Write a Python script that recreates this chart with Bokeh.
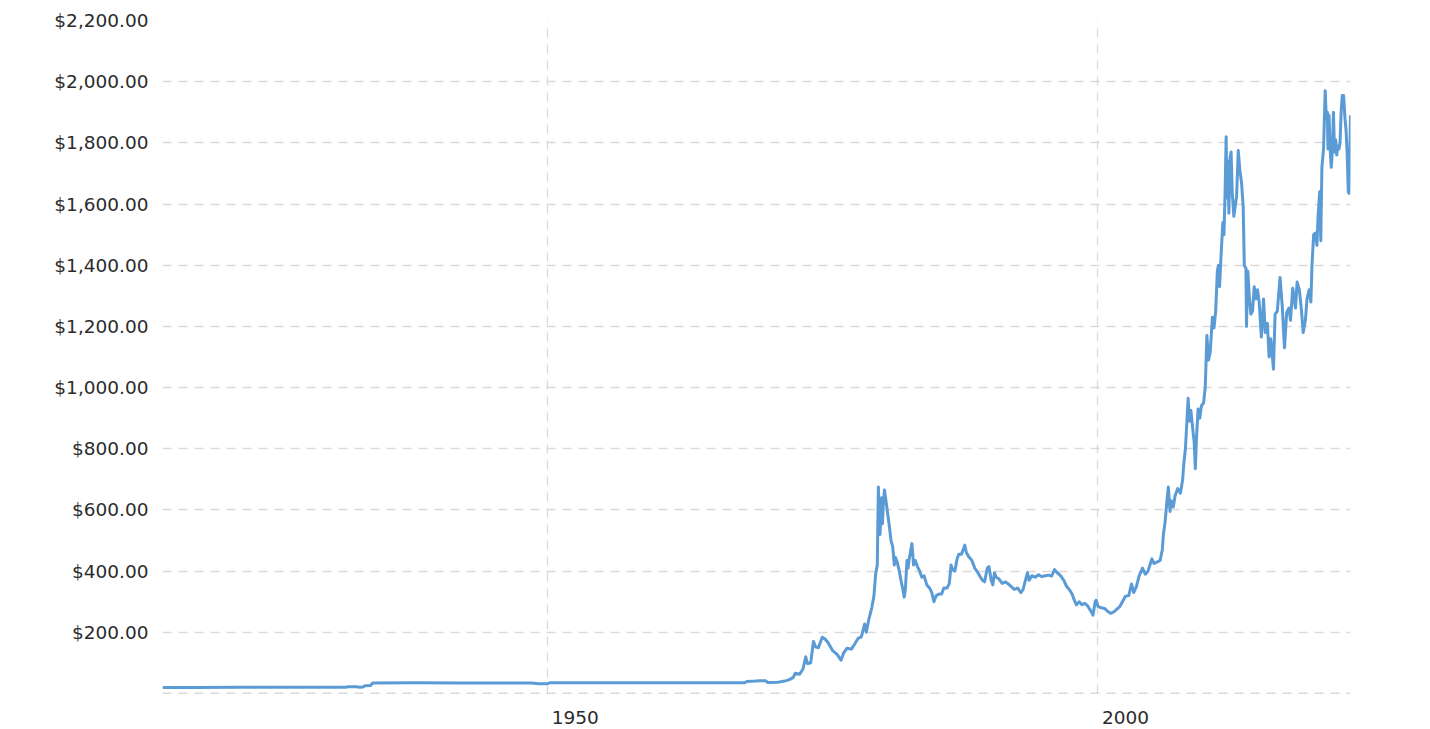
from bokeh.plotting import figure
from bokeh.models import FixedTicker, Span, NumeralTickFormatter, Range1d
from bokeh.embed import file_html
from bokeh.resources import INLINE

# ---- data ----
years = [
    1915.0, 1918.0, 1922.0, 1926.0, 1930.0, 1931.6, 1931.9, 1932.6, 1932.9, 1933.2,
    1933.4, 1933.9, 1934.1, 1938.0, 1942.0, 1946.0, 1948.5, 1949.2, 1949.9, 1950.2,
    1955.0, 1960.0, 1967.9, 1968.1, 1968.9, 1969.3, 1969.8, 1970.0, 1970.9, 1971.3,
    1971.7, 1972.0, 1972.3, 1972.5, 1972.9, 1973.2, 1973.45, 1973.6, 1973.9, 1974.15,
    1974.35, 1974.6, 1974.95, 1975.2, 1975.5, 1975.9, 1976.3, 1976.65, 1976.9, 1977.2,
    1977.6, 1977.9, 1978.2, 1978.5, 1978.8, 1978.95, 1979.2, 1979.45, 1979.65, 1979.8,
    1979.95, 1980.05, 1980.15, 1980.2, 1980.3, 1980.35, 1980.42, 1980.5, 1980.6, 1980.7,
    1980.85, 1981.0, 1981.2, 1981.35, 1981.5, 1981.6, 1981.75, 1981.95, 1982.1, 1982.25,
    1982.4, 1982.5, 1982.65, 1982.75, 1982.85, 1983.1, 1983.25, 1983.4, 1983.6, 1983.8,
    1984.0, 1984.2, 1984.45, 1984.7, 1984.9, 1985.1, 1985.3, 1985.55, 1985.8, 1986.0,
    1986.3, 1986.5, 1986.65, 1986.8, 1987.0, 1987.2, 1987.35, 1987.6, 1987.9, 1988.05,
    1988.3, 1988.55, 1988.8, 1989.0, 1989.25, 1989.5, 1989.7, 1989.95, 1990.1, 1990.3,
    1990.45, 1990.6, 1990.75, 1991.0, 1991.3, 1991.6, 1991.85, 1992.1, 1992.4, 1992.7,
    1993.0, 1993.2, 1993.45, 1993.6, 1993.75, 1994.0, 1994.3, 1994.6, 1994.9, 1995.2,
    1995.5, 1995.8, 1996.05, 1996.3, 1996.6, 1996.9, 1997.15, 1997.4, 1997.65, 1997.85,
    1998.05, 1998.3, 1998.55, 1998.8, 1999.05, 1999.35, 1999.55, 1999.75, 1999.85, 2000.0,
    2000.3, 2000.6, 2000.9, 2001.15, 2001.35, 2001.55, 2001.8, 2002.0, 2002.3, 2002.5,
    2002.8, 2003.05, 2003.25, 2003.5, 2003.75, 2004.05, 2004.3, 2004.55, 2004.9, 2005.1,
    2005.4, 2005.65, 2005.85, 2005.95, 2006.1, 2006.3, 2006.4, 2006.55, 2006.65, 2006.85,
    2007.0, 2007.25, 2007.5, 2007.7, 2007.8, 2007.95, 2008.1, 2008.2, 2008.3, 2008.45,
    2008.6, 2008.75, 2008.85, 2008.95, 2009.1, 2009.25, 2009.4, 2009.6, 2009.75, 2009.9,
    2010.05, 2010.2, 2010.4, 2010.55, 2010.7, 2010.85, 2010.95, 2011.05, 2011.2, 2011.35,
    2011.45, 2011.55, 2011.65, 2011.72, 2011.8, 2011.9, 2012.0, 2012.1, 2012.2, 2012.35,
    2012.5, 2012.6, 2012.75, 2012.9, 2013.05, 2013.2, 2013.3, 2013.45, 2013.5, 2013.62,
    2013.75, 2013.9, 2014.05, 2014.2, 2014.35, 2014.5, 2014.65, 2014.85, 2015.05, 2015.2,
    2015.4, 2015.55, 2015.7, 2015.95, 2016.1, 2016.3, 2016.55, 2016.75, 2016.95, 2017.15,
    2017.35, 2017.5, 2017.7, 2017.95, 2018.1, 2018.3, 2018.5, 2018.65, 2018.85, 2019.0,
    2019.2, 2019.35, 2019.45, 2019.6, 2019.75, 2019.9, 2020.0, 2020.15, 2020.25, 2020.35,
    2020.5, 2020.65, 2020.75, 2020.85, 2020.9, 2021.0, 2021.1, 2021.2, 2021.3, 2021.4,
    2021.5, 2021.6, 2021.7, 2021.8, 2021.9, 2022.0, 2022.1, 2022.2, 2022.32, 2022.45,
    2022.55, 2022.65, 2022.75, 2022.82, 2022.95,
]
prices = [
    19.5, 19.8, 20.1, 20.3, 20.6, 20.7, 22.0, 22.0, 20.8, 21.0,
    25.5, 26.0, 34.5, 35.0, 34.0, 34.6, 34.5, 31.5, 31.5, 34.8,
    35.0, 35.0, 35.0, 39.5, 40.5, 42.0, 41.5, 36.0, 37.0, 39.0,
    42.0, 46.0, 52.0, 66.0, 63.0, 80.0, 120.0, 98.0, 100.0, 170.0,
    152.0, 150.0, 184.0, 178.0, 165.0, 140.0, 128.0, 109.0, 133.0, 148.0,
    145.0, 162.0, 180.0, 185.0, 227.0, 200.0, 245.0, 280.0, 320.0, 390.0,
    420.0, 675.0, 560.0, 520.0, 600.0, 640.0, 555.0, 620.0, 665.0, 640.0,
    600.0, 560.0, 500.0, 480.0, 420.0, 445.0, 430.0, 400.0, 370.0, 345.0,
    315.0, 340.0, 435.0, 410.0, 440.0, 490.0, 420.0, 435.0, 415.0, 400.0,
    380.0, 385.0, 355.0, 345.0, 330.0, 300.0, 320.0, 325.0, 325.0, 345.0,
    345.0, 360.0, 420.0, 405.0, 400.0, 440.0, 455.0, 455.0, 485.0, 460.0,
    445.0, 435.0, 410.0, 400.0, 385.0, 370.0, 365.0, 410.0, 415.0, 370.0,
    355.0, 395.0, 380.0, 375.0, 360.0, 365.0, 358.0, 350.0, 340.0, 345.0,
    330.0, 340.0, 375.0, 395.0, 370.0, 385.0, 380.0, 388.0, 382.0, 385.0,
    387.0, 384.0, 405.0, 395.0, 385.0, 370.0, 350.0, 340.0, 325.0, 305.0,
    290.0, 300.0, 290.0, 295.0, 287.0, 270.0, 256.0, 300.0, 305.0, 285.0,
    280.0, 278.0, 268.0, 262.0, 265.0, 270.0, 278.0, 285.0, 305.0, 318.0,
    320.0, 358.0, 330.0, 350.0, 385.0, 410.0, 390.0, 400.0, 440.0, 425.0,
    430.0, 435.0, 470.0, 520.0, 560.0, 640.0, 675.0, 595.0, 630.0, 610.0,
    645.0, 670.0, 655.0, 700.0, 750.0, 800.0, 900.0, 965.0, 890.0, 925.0,
    870.0, 820.0, 735.0, 830.0, 930.0, 900.0, 940.0, 950.0, 1000.0, 1170.0,
    1090.0, 1115.0, 1230.0, 1195.0, 1250.0, 1380.0, 1400.0, 1330.0, 1440.0, 1540.0,
    1500.0, 1630.0, 1820.0, 1620.0, 1740.0, 1570.0, 1750.0, 1770.0, 1640.0, 1560.0,
    1600.0, 1625.0, 1775.0, 1710.0, 1670.0, 1590.0, 1400.0, 1390.0, 1200.0, 1380.0,
    1300.0, 1240.0, 1250.0, 1330.0, 1290.0, 1320.0, 1280.0, 1165.0, 1290.0, 1180.0,
    1210.0, 1100.0, 1160.0, 1060.0, 1240.0, 1250.0, 1360.0, 1265.0, 1130.0, 1245.0,
    1260.0, 1220.0, 1325.0, 1260.0, 1345.0, 1320.0, 1250.0, 1180.0, 1220.0, 1290.0,
    1320.0, 1280.0, 1400.0, 1500.0, 1505.0, 1465.0, 1560.0, 1640.0, 1480.0, 1720.0,
    1780.0, 1970.0, 1880.0, 1900.0, 1780.0, 1890.0, 1780.0, 1720.0, 1770.0, 1900.0,
    1770.0, 1810.0, 1760.0, 1790.0, 1780.0, 1800.0, 1900.0, 1955.0, 1955.0, 1880.0,
    1840.0, 1760.0, 1640.0, 1635.0, 1890.0,
]
y_ticks = [200, 400, 600, 800, 1000, 1200, 1400, 1600, 1800, 2000, 2200]
x_ticks = [1950, 2000]
x_tick_labels = ["1950", "2000"]
# the reference prints each year label just to the right of its gridline
x_label_shift = 2.5  # years

FONT = "DejaVu Sans"
TEXT_COLOR = "#2b2b2b"
GRID_COLOR = "#d9d9d9"

p = figure(
    frame_width=1188, frame_height=673,
    min_border_left=162, min_border_right=40, min_border_top=20, min_border_bottom=36,
    x_range=Range1d(1915.0, 2022.95), y_range=Range1d(0, 2200),
    output_backend="svg", toolbar_location=None,
)
p.outline_line_color = None
p.background_fill_color = "white"
p.border_fill_color = "white"

# y axis
p.yaxis.ticker = FixedTicker(ticks=y_ticks)
p.yaxis.formatter = NumeralTickFormatter(format="$0,0.00")
p.yaxis.axis_line_color = None
p.yaxis.major_tick_line_color = None
p.yaxis.minor_tick_line_color = None
p.yaxis.major_label_standoff = 8
p.yaxis.major_label_text_font = FONT
p.yaxis.major_label_text_font_size = "18.5px"
p.yaxis.major_label_text_color = TEXT_COLOR

# x axis: labels sit to the right of the 1950 / 2000 gridlines
label_pos = [t + x_label_shift for t in x_ticks]
p.xaxis.ticker = FixedTicker(ticks=label_pos)
p.xaxis.major_label_overrides = {lp: lab for lp, lab in zip(label_pos, x_tick_labels)}
p.xaxis.axis_line_color = None
p.xaxis.major_tick_line_color = None
p.xaxis.minor_tick_line_color = None
p.xaxis.major_label_standoff = 11
p.xaxis.major_label_text_font = FONT
p.xaxis.major_label_text_font_size = "18.5px"
p.xaxis.major_label_text_color = TEXT_COLOR

p.xgrid.ticker = FixedTicker(ticks=x_ticks)
p.xgrid.grid_line_color = GRID_COLOR
p.xgrid.grid_line_dash = "9 7"
p.xgrid.grid_line_width = 1.3

p.ygrid.grid_line_color = GRID_COLOR
p.ygrid.grid_line_dash = "9 7"
p.ygrid.grid_line_width = 1.3

# zero line (darker)
p.add_layout(Span(location=0, dimension="width", line_color="#b5b5b5",
                  line_dash="9 7", line_width=1.5))

p.line(years, prices, line_color="#5b9bd5", line_width=3, line_join="round")

open("out.html", "w").write(file_html(p, INLINE))
